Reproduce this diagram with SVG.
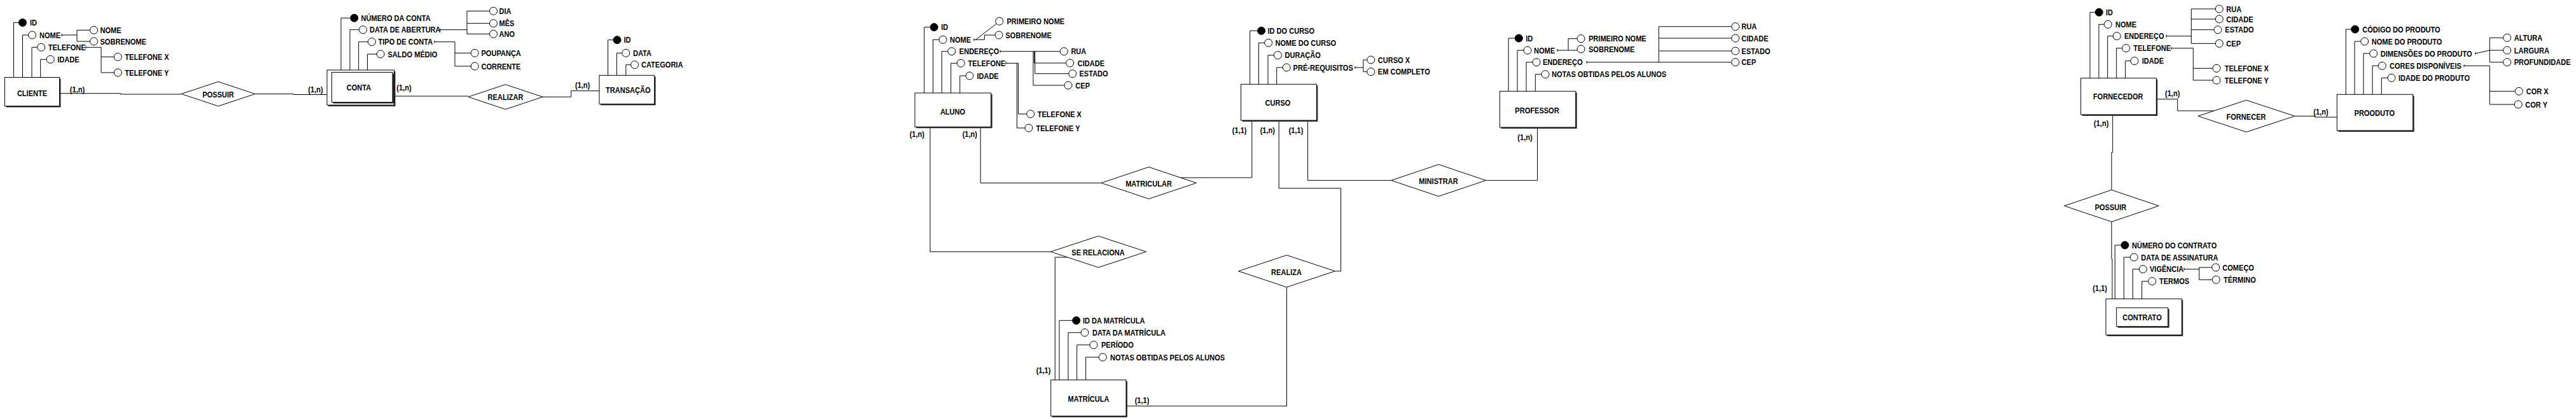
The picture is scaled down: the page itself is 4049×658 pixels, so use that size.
<svg xmlns="http://www.w3.org/2000/svg" width="4049" height="658" viewBox="0 0 4049 658">
<style>
text{font-family:"Liberation Sans",Arial,sans-serif;font-weight:bold;font-size:13px;fill:#000}
.c{text-anchor:middle}
.b{fill:#fff;stroke:#000;stroke-width:1}
.sh{fill:#333}
.rel{fill:#fff;stroke:#000;stroke-width:1}
.ln{fill:none;stroke:#000;stroke-width:1}
.at{fill:#fff;stroke:#000;stroke-width:1}
.pk{fill:#000;stroke:#000;stroke-width:1}
</style>
<rect width="4049" height="658" fill="#fff"/>
<g id="connectors" class="ln">
<path d="M21.5 121.5V35.5H29.5M35.5 121.5V55H44.5M50 121.5V74.3H58.7M63.7 121.5V93.3H73.2"/>
<path d="M97 53V57M97 55H121M121 47.3V65M121 47.3H141.5M121 65H141.5"/>
<path d="M135 72.3V76.3M135 74.3H159V114H179.3M159 89.3H179.3"/>
<path d="M93.5 146.7H189.5V148H285M401 147.5H461.5V148.5H514"/>
<path d="M536 110V28.3H550.8M550 110V46.7H564.6M563.7 110V65.7H578.4M577.5 110V85H592.1"/>
<path d="M692 44.7V48.7M692 46.7H734M734 17.3V53.3M734 17.3H769.5M734 36.7H769.5M734 53.3H769.5"/>
<path d="M683 63.7V67.7M683 65.7H715V104H740.2M715 83.3H740.2"/>
<path d="M619.5 151H736M853 152.2H897.7V142.7H942"/>
<path d="M955.6 118.3V62.7H964M969.4 118.3V83.3H977.8M983.8 118.3V101.7H991.6"/>
<path d="M1452.7 146V42.7H1462.2M1466.5 146V62.3H1476M1480.3 146V80.7H1489.8M1494.7 146V99.3H1504.2M1508.8 146V119H1518"/>
<path d="M1531 60.3V64.3M1531 62.3H1533.6L1566.5 37M1533.6 62.3H1547.4V55H1564"/>
<path d="M1572 78.7V82.7M1572 80.7H1666.4M1624 80.7V134H1673M1625.6 80.7V99H1675.7M1626.8 80.7V115.7H1679.8"/>
<path d="M1581 97.3V101.3M1581 99.3H1600.5V179H1613.7M1598.5 99.3V201H1611"/>
<path d="M1964.7 132.3V48.3H1976.6M1978.5 132.3V67.3H1987.7M1993 132.3V86.7H2002.5M2006.7 132.3V106H2016.2"/>
<path d="M2130 104V108M2130 106H2142.8M2142.8 94V112.7M2142.8 94H2148.8M2142.8 112.7H2148.8"/>
<path d="M2371 143.3V60H2381.3M2385 143.3V79H2395M2399 143.3V97.7H2409M2413.3 143.3V116.7H2423"/>
<path d="M2448 77V81M2448 79H2479.3M2465 79V60.7H2479"/>
<path d="M2494 95.7V99.7M2494 97.7H2721.7M2607.3 41.7V97.7M2607.3 41.7H2721.7M2607.3 60H2721.7M2607.3 80H2721.7"/>
<path d="M1665 596.7V503.3H1685.7M1679 596.7V522.3H1699M1692.7 596.7V541.7H1713M1706.7 596.7V561H1727.3"/>
<path d="M1541.2 199.3V287.3H1731M1855.6 279H1967.8V189"/>
<path d="M1462 199.3V395.3H1651.4M1677.6 404H1658.3V596.7"/>
<path d="M2010.2 189V295.7H2107.6V425.8H2098.3M2022.5 451V637.7H1770"/>
<path d="M2055.6 189V283.3H2186.8M2335.6 283.3H2416.5V200"/>
<path d="M3285 122.7V19.3H3293.3M3299 122.7V38.3H3307.3M3312.7 122.7V56.7H3321.3M3326.7 122.7V75.7H3335.7M3340.7 122.7V95.7H3349"/>
<path d="M3405 54.7V58.7M3405 56.7H3444.3M3444.3 14V68.3M3444.3 14H3482.3M3444.3 30H3482.3M3444.3 46.7H3480M3444.3 68.3H3482.3"/>
<path d="M3413 73.7V77.7M3413 75.7H3447.3V126H3478M3447.3 107.3H3478"/>
<path d="M3687.3 148.3V46H3695.7M3701 148.3V65H3710.7M3715 148.3V84H3724.7M3729 148.3V103.3H3738.3M3743.3 148.3V122.3H3753"/>
<path d="M3891 82V86M3891 84L3913.3 79M3913.3 59.3V97.7M3913.3 59.3H3934.7M3913.3 79H3934.7M3913.3 97.7H3934.7"/>
<path d="M3873 101.3V105.3M3873 103.3H3913.3V164H3952.3M3913.3 143.3H3953.3"/>
<path d="M3324.3 469.3V385H3334M3338.3 469.3V404H3348.3M3352.3 469.3V422.7H3362.3M3366.7 469.3V441.7H3376.7"/>
<path d="M3433 420.7V424.7M3433 422.7H3456.7M3456.7 420V439.3M3456.7 420H3476.7M3456.7 439.3H3477.3"/>
<path d="M3389.3 155.7H3422.7V174H3480.2M3606.7 182.3H3638.3V184H3673.3"/>
<path d="M3320.7 180V239.3H3319V298.3M3319 348.3V406.7H3320V469.3"/>
</g>
<g id="cardinalities">
<text class="c" transform="translate(121.5,144.7) scale(.85,1)">(1,n)</text>
<text class="c" transform="translate(496,144.7) scale(.85,1)">(1,n)</text>
<text class="c" transform="translate(635,142.4) scale(.85,1)">(1,n)</text>
<text class="c" transform="translate(915.6,138) scale(.85,1)">(1,n)</text>
<text class="c" transform="translate(1441.3,215.4) scale(.85,1)">(1,n)</text>
<text class="c" transform="translate(1524.3,215.4) scale(.85,1)">(1,n)</text>
<text class="c" transform="translate(1948.2,208.7) scale(.85,1)">(1,1)</text>
<text class="c" transform="translate(1992.3,208.7) scale(.85,1)">(1,n)</text>
<text class="c" transform="translate(2037,208.7) scale(.85,1)">(1,1)</text>
<text class="c" transform="translate(2397,219.7) scale(.85,1)">(1,n)</text>
<text class="c" transform="translate(1640,585.7) scale(.85,1)">(1,1)</text>
<text class="c" transform="translate(1795,633) scale(.85,1)">(1,1)</text>
<text class="c" transform="translate(3414.7,151.4) scale(.85,1)">(1,n)</text>
<text class="c" transform="translate(3648,179.7) scale(.85,1)">(1,n)</text>
<text class="c" transform="translate(3302.7,198) scale(.85,1)">(1,n)</text>
<text class="c" transform="translate(3300.7,457.4) scale(.85,1)">(1,1)</text>
</g>
<g id="cliente"><rect class="sh" x="9.5" y="123.5" width="86" height="45"/><rect class="b" x="7.5" y="121.5" width="86" height="45"/><text class="c" transform="translate(50.5,151.4) scale(.85,1)">CLIENTE</text></g>
<g id="conta"><rect class="sh" x="516" y="112" width="105.5" height="55"/><rect class="b" x="514" y="110" width="105.5" height="55"/><rect class="sh" x="523.5" y="115.5" width="95.5" height="47"/><rect class="b" x="521.5" y="113.5" width="95.5" height="47"/><text class="c" transform="translate(564,142.4) scale(.85,1)">CONTA</text></g>
<g id="transacao"><rect class="sh" x="944" y="120.3" width="86.6" height="45"/><rect class="b" x="942" y="118.3" width="86.6" height="45"/><text class="c" transform="translate(987.3,146.4) scale(.85,1)">TRANSAÇÃO</text></g>
<g id="aluno"><rect class="sh" x="1440" y="148" width="119.7" height="53.3"/><rect class="b" x="1438" y="146" width="119.7" height="53.3"/><text class="c" transform="translate(1497.5,180.4) scale(.85,1)">ALUNO</text></g>
<g id="curso"><rect class="sh" x="1952.6" y="134.3" width="118.8" height="56.7"/><rect class="b" x="1950.6" y="132.3" width="118.8" height="56.7"/><text class="c" transform="translate(2008.5,166.4) scale(.85,1)">CURSO</text></g>
<g id="professor"><rect class="sh" x="2359.3" y="145.3" width="119.4" height="56.7"/><rect class="b" x="2357.3" y="143.3" width="119.4" height="56.7"/><text class="c" transform="translate(2416,178) scale(.85,1)">PROFESSOR</text></g>
<g id="matricula"><rect class="sh" x="1653.7" y="598.7" width="118.3" height="56.6"/><rect class="b" x="1651.7" y="596.7" width="118.3" height="56.6"/><text class="c" transform="translate(1711,631.4) scale(.85,1)">MATRÍCULA</text></g>
<g id="fornecedor"><rect class="sh" x="3272.7" y="124.7" width="118.6" height="57.3"/><rect class="b" x="3270.7" y="122.7" width="118.6" height="57.3"/><text class="c" transform="translate(3329.3,156.4) scale(.85,1)">FORNECEDOR</text></g>
<g id="produto"><rect class="sh" x="3675.3" y="150.3" width="119.4" height="56.7"/><rect class="b" x="3673.3" y="148.3" width="119.4" height="56.7"/><text class="c" transform="translate(3732.3,182.4) scale(.85,1)">PROODUTO</text></g>
<g id="contrato"><rect class="sh" x="3312" y="471.3" width="119.3" height="56.7"/><rect class="b" x="3310" y="469.3" width="119.3" height="56.7"/><rect class="sh" x="3328.7" y="485.3" width="81" height="29.4"/><rect class="b" x="3326.7" y="483.3" width="81" height="29.4"/><text class="c" transform="translate(3367,503) scale(.85,1)">CONTRATO</text></g>
<g id="rel-possuir-1"><polygon class="rel" points="285,147.5 343,128.3 401,147.5 343,166.7"/><text class="c" transform="translate(343,152.7) scale(.85,1)">POSSUIR</text></g>
<g id="rel-realizar"><polygon class="rel" points="736,152.2 794.5,132.7 853,152.2 794.5,171.7"/><text class="c" transform="translate(794.5,157) scale(.85,1)">REALIZAR</text></g>
<g id="rel-matricular"><polygon class="rel" points="1731,287.3 1805.7,262.3 1880.4,287.3 1805.7,312.3"/><text class="c" transform="translate(1805.5,292.7) scale(.85,1)">MATRICULAR</text></g>
<g id="rel-se-relaciona"><polygon class="rel" points="1651.4,395.3 1726.5,370.7 1801.5,395.3 1726.5,420"/><text class="c" transform="translate(1726,401) scale(.85,1)">SE RELACIONA</text></g>
<g id="rel-realiza"><polygon class="rel" points="1946.7,425.8 2022.5,400.7 2098.3,425.8 2022.5,451"/><text class="c" transform="translate(2022,431.5) scale(.85,1)">REALIZA</text></g>
<g id="rel-ministrar"><polygon class="rel" points="2186.8,283.3 2261.2,258.3 2335.6,283.3 2261.2,308.3"/><text class="c" transform="translate(2261,289) scale(.85,1)">MINISTRAR</text></g>
<g id="rel-fornecer"><polygon class="rel" points="3455,182.3 3530.8,157.3 3606.7,182.3 3530.8,207.3"/><text class="c" transform="translate(3530.5,188) scale(.85,1)">FORNECER</text></g>
<g id="rel-possuir-2"><polygon class="rel" points="3244.7,323.3 3319,298.3 3393.3,323.3 3319,348.3"/><text class="c" transform="translate(3317.5,329.7) scale(.85,1)">POSSUIR</text></g>
<g id="a-cliente-id"><circle class="pk" cx="35.5" cy="35.5" r="6"/><text transform="translate(47,40.2) scale(.85,1)">ID</text></g>
<g id="a-cliente-nome"><circle class="at" cx="50.5" cy="55" r="6"/><text transform="translate(62,59.7) scale(.85,1)">NOME</text></g>
<g id="a-cliente-nome-nome"><circle class="at" cx="147.5" cy="47.3" r="6"/><text transform="translate(157.5,52) scale(.85,1)">NOME</text></g>
<g id="a-cliente-nome-sobrenome"><circle class="at" cx="147.5" cy="65" r="6"/><text transform="translate(157.5,69.7) scale(.85,1)">SOBRENOME</text></g>
<g id="a-cliente-telefone"><circle class="at" cx="64.7" cy="74.3" r="6"/><text transform="translate(75.8,79) scale(.85,1)">TELEFONE</text></g>
<g id="a-cliente-telx"><circle class="at" cx="185.3" cy="89.3" r="6"/><text transform="translate(196.3,94) scale(.85,1)">TELEFONE X</text></g>
<g id="a-cliente-tely"><circle class="at" cx="185.3" cy="114" r="6"/><text transform="translate(196.3,118.7) scale(.85,1)">TELEFONE Y</text></g>
<g id="a-cliente-idade"><circle class="at" cx="79.2" cy="93.3" r="6"/><text transform="translate(90.2,98) scale(.85,1)">IDADE</text></g>
<g id="a-conta-numero"><circle class="pk" cx="556.8" cy="28.3" r="6"/><text transform="translate(567.5,33) scale(.85,1)">NÚMERO DA CONTA</text></g>
<g id="a-conta-data"><circle class="at" cx="570.6" cy="46.7" r="6"/><text transform="translate(581,51.4) scale(.85,1)">DATA DE ABERTURA</text></g>
<g id="a-conta-dia"><circle class="at" cx="775.5" cy="17.3" r="6"/><text transform="translate(784.5,22) scale(.85,1)">DIA</text></g>
<g id="a-conta-mes"><circle class="at" cx="775.5" cy="36.7" r="6"/><text transform="translate(784.5,41.4) scale(.85,1)">MÊS</text></g>
<g id="a-conta-ano"><circle class="at" cx="775.5" cy="53.3" r="6"/><text transform="translate(784.5,58) scale(.85,1)">ANO</text></g>
<g id="a-conta-tipo"><circle class="at" cx="584.4" cy="65.7" r="6"/><text transform="translate(594.5,70.4) scale(.85,1)">TIPO DE CONTA</text></g>
<g id="a-conta-poupanca"><circle class="at" cx="746.2" cy="83.3" r="6"/><text transform="translate(756.5,88) scale(.85,1)">POUPANÇA</text></g>
<g id="a-conta-corrente"><circle class="at" cx="746.2" cy="104" r="6"/><text transform="translate(756.5,108.7) scale(.85,1)">CORRENTE</text></g>
<g id="a-conta-saldo"><circle class="at" cx="598.1" cy="85" r="6"/><text transform="translate(609.5,89.7) scale(.85,1)">SALDO MÉDIO</text></g>
<g id="a-trans-id"><circle class="pk" cx="970" cy="62.7" r="6"/><text transform="translate(980.4,67.4) scale(.85,1)">ID</text></g>
<g id="a-trans-data"><circle class="at" cx="983.8" cy="83.3" r="6"/><text transform="translate(995,88) scale(.85,1)">DATA</text></g>
<g id="a-trans-categoria"><circle class="at" cx="997.6" cy="101.7" r="6"/><text transform="translate(1008,106.4) scale(.85,1)">CATEGORIA</text></g>
<g id="a-aluno-id"><circle class="pk" cx="1468.2" cy="42.7" r="6"/><text transform="translate(1479.2,47.4) scale(.85,1)">ID</text></g>
<g id="a-aluno-nome"><circle class="at" cx="1482" cy="62.3" r="6"/><text transform="translate(1493,67) scale(.85,1)">NOME</text></g>
<g id="a-aluno-primeiro"><circle class="at" cx="1570.8" cy="33.3" r="6"/><text transform="translate(1582.5,38) scale(.85,1)">PRIMEIRO NOME</text></g>
<g id="a-aluno-sobrenome"><circle class="at" cx="1570" cy="55" r="6"/><text transform="translate(1580.5,59.7) scale(.85,1)">SOBRENOME</text></g>
<g id="a-aluno-endereco"><circle class="at" cx="1495.8" cy="80.7" r="6"/><text transform="translate(1507.8,85.4) scale(.85,1)">ENDEREÇO</text></g>
<g id="a-aluno-rua"><circle class="at" cx="1672.4" cy="80.7" r="6"/><text transform="translate(1683.4,85.4) scale(.85,1)">RUA</text></g>
<g id="a-aluno-cidade"><circle class="at" cx="1681.7" cy="99" r="6"/><text transform="translate(1693.8,103.7) scale(.85,1)">CIDADE</text></g>
<g id="a-aluno-estado"><circle class="at" cx="1685.8" cy="115.7" r="6"/><text transform="translate(1696.5,120.4) scale(.85,1)">ESTADO</text></g>
<g id="a-aluno-cep"><circle class="at" cx="1679" cy="134" r="6"/><text transform="translate(1690.3,138.7) scale(.85,1)">CEP</text></g>
<g id="a-aluno-telefone"><circle class="at" cx="1510.2" cy="99.3" r="6"/><text transform="translate(1521.6,104) scale(.85,1)">TELEFONE</text></g>
<g id="a-aluno-telx"><circle class="at" cx="1619.7" cy="179" r="6"/><text transform="translate(1630.7,183.7) scale(.85,1)">TELEFONE X</text></g>
<g id="a-aluno-tely"><circle class="at" cx="1617" cy="201" r="6"/><text transform="translate(1628.5,205.7) scale(.85,1)">TELEFONE Y</text></g>
<g id="a-aluno-idade"><circle class="at" cx="1524" cy="119" r="6"/><text transform="translate(1535.4,123.7) scale(.85,1)">IDADE</text></g>
<g id="a-curso-id"><circle class="pk" cx="1982.6" cy="48.3" r="6"/><text transform="translate(1992.5,53) scale(.85,1)">ID DO CURSO</text></g>
<g id="a-curso-nome"><circle class="at" cx="1993.7" cy="67.3" r="6"/><text transform="translate(2004.5,72) scale(.85,1)">NOME DO CURSO</text></g>
<g id="a-curso-duracao"><circle class="at" cx="2008.5" cy="86.7" r="6"/><text transform="translate(2019.5,91.4) scale(.85,1)">DURAÇÃO</text></g>
<g id="a-curso-prereq"><circle class="at" cx="2022.2" cy="106" r="6"/><text transform="translate(2032.6,110.7) scale(.85,1)">PRÉ-REQUISITOS</text></g>
<g id="a-curso-x"><circle class="at" cx="2154.8" cy="94" r="6"/><text transform="translate(2165.8,98.7) scale(.85,1)">CURSO X</text></g>
<g id="a-curso-completo"><circle class="at" cx="2154.8" cy="112.7" r="6"/><text transform="translate(2165.8,117.4) scale(.85,1)">EM COMPLETO</text></g>
<g id="a-prof-id"><circle class="pk" cx="2387.3" cy="60" r="6"/><text transform="translate(2398.3,64.7) scale(.85,1)">ID</text></g>
<g id="a-prof-nome"><circle class="at" cx="2401" cy="79" r="6"/><text transform="translate(2411,83.7) scale(.85,1)">NOME</text></g>
<g id="a-prof-primeiro"><circle class="at" cx="2485" cy="60.7" r="6"/><text transform="translate(2497,65.4) scale(.85,1)">PRIMEIRO NOME</text></g>
<g id="a-prof-sobrenome"><circle class="at" cx="2485" cy="77" r="6"/><text transform="translate(2497,81.7) scale(.85,1)">SOBRENOME</text></g>
<g id="a-prof-endereco"><circle class="at" cx="2415" cy="97.7" r="6"/><text transform="translate(2425,102.4) scale(.85,1)">ENDEREÇO</text></g>
<g id="a-prof-rua"><circle class="at" cx="2727.7" cy="41.7" r="6"/><text transform="translate(2737.3,46.4) scale(.85,1)">RUA</text></g>
<g id="a-prof-cidade"><circle class="at" cx="2727.7" cy="60" r="6"/><text transform="translate(2737.3,64.7) scale(.85,1)">CIDADE</text></g>
<g id="a-prof-estado"><circle class="at" cx="2727.7" cy="80" r="6"/><text transform="translate(2737.3,84.7) scale(.85,1)">ESTADO</text></g>
<g id="a-prof-cep"><circle class="at" cx="2727.7" cy="97.7" r="6"/><text transform="translate(2737.3,102.4) scale(.85,1)">CEP</text></g>
<g id="a-prof-notas"><circle class="at" cx="2429" cy="116.7" r="6"/><text transform="translate(2439,121.4) scale(.85,1)">NOTAS OBTIDAS PELOS ALUNOS</text></g>
<g id="a-mat-id"><circle class="pk" cx="1691.7" cy="503.3" r="6"/><text transform="translate(1702,508) scale(.85,1)">ID DA MATRÍCULA</text></g>
<g id="a-mat-data"><circle class="at" cx="1705" cy="522.3" r="6"/><text transform="translate(1717,527) scale(.85,1)">DATA DA MATRÍCULA</text></g>
<g id="a-mat-periodo"><circle class="at" cx="1719" cy="541.7" r="6"/><text transform="translate(1731,546.4) scale(.85,1)">PERÍODO</text></g>
<g id="a-mat-notas"><circle class="at" cx="1733.3" cy="561" r="6"/><text transform="translate(1745,565.7) scale(.85,1)">NOTAS OBTIDAS PELOS ALUNOS</text></g>
<g id="a-forn-id"><circle class="pk" cx="3299.3" cy="19.3" r="6"/><text transform="translate(3310,24) scale(.85,1)">ID</text></g>
<g id="a-forn-nome"><circle class="at" cx="3313.3" cy="38.3" r="6"/><text transform="translate(3325,43) scale(.85,1)">NOME</text></g>
<g id="a-forn-endereco"><circle class="at" cx="3327.3" cy="56.7" r="6"/><text transform="translate(3339,61.4) scale(.85,1)">ENDEREÇO</text></g>
<g id="a-forn-rua"><circle class="at" cx="3488.3" cy="14" r="6"/><text transform="translate(3499.3,18.7) scale(.85,1)">RUA</text></g>
<g id="a-forn-cidade"><circle class="at" cx="3488.3" cy="30" r="6"/><text transform="translate(3499.3,34.7) scale(.85,1)">CIDADE</text></g>
<g id="a-forn-estado"><circle class="at" cx="3486" cy="46.7" r="6"/><text transform="translate(3497.3,51.4) scale(.85,1)">ESTADO</text></g>
<g id="a-forn-cep"><circle class="at" cx="3488.3" cy="68.3" r="6"/><text transform="translate(3499.3,73) scale(.85,1)">CEP</text></g>
<g id="a-forn-telefone"><circle class="at" cx="3341.7" cy="75.7" r="6"/><text transform="translate(3353.3,80.4) scale(.85,1)">TELEFONE</text></g>
<g id="a-forn-telx"><circle class="at" cx="3484" cy="107.3" r="6"/><text transform="translate(3496.7,112) scale(.85,1)">TELEFONE X</text></g>
<g id="a-forn-tely"><circle class="at" cx="3484" cy="126" r="6"/><text transform="translate(3496.7,130.7) scale(.85,1)">TELEFONE Y</text></g>
<g id="a-forn-idade"><circle class="at" cx="3355" cy="95.7" r="6"/><text transform="translate(3366.7,100.4) scale(.85,1)">IDADE</text></g>
<g id="a-prod-codigo"><circle class="pk" cx="3701.7" cy="46" r="6"/><text transform="translate(3713.3,50.7) scale(.85,1)">CÓDIGO DO PRODUTO</text></g>
<g id="a-prod-nome"><circle class="at" cx="3716.7" cy="65" r="6"/><text transform="translate(3727.7,69.7) scale(.85,1)">NOME DO PRODUTO</text></g>
<g id="a-prod-dim"><circle class="at" cx="3730.7" cy="84" r="6"/><text transform="translate(3741.7,88.7) scale(.85,1)">DIMENSÕES DO PRODUTO</text></g>
<g id="a-prod-altura"><circle class="at" cx="3940.7" cy="59.3" r="6"/><text transform="translate(3951.7,64) scale(.85,1)">ALTURA</text></g>
<g id="a-prod-largura"><circle class="at" cx="3940.7" cy="79" r="6"/><text transform="translate(3951.7,83.7) scale(.85,1)">LARGURA</text></g>
<g id="a-prod-prof"><circle class="at" cx="3940.7" cy="97.7" r="6"/><text transform="translate(3951.7,102.4) scale(.85,1)">PROFUNDIDADE</text></g>
<g id="a-prod-cores"><circle class="at" cx="3744.3" cy="103.3" r="6"/><text transform="translate(3756,108) scale(.85,1)">CORES DISPONÍVEIS</text></g>
<g id="a-prod-corx"><circle class="at" cx="3959.3" cy="143.3" r="6"/><text transform="translate(3970.7,148) scale(.85,1)">COR X</text></g>
<g id="a-prod-cory"><circle class="at" cx="3958.3" cy="164" r="6"/><text transform="translate(3969.3,168.7) scale(.85,1)">COR Y</text></g>
<g id="a-prod-idade"><circle class="at" cx="3759" cy="122.3" r="6"/><text transform="translate(3770,127) scale(.85,1)">IDADE DO PRODUTO</text></g>
<g id="a-contr-numero"><circle class="pk" cx="3340" cy="385" r="6"/><text transform="translate(3351,389.7) scale(.85,1)">NÚMERO DO CONTRATO</text></g>
<g id="a-contr-data"><circle class="at" cx="3354.3" cy="404" r="6"/><text transform="translate(3365.3,408.7) scale(.85,1)">DATA DE ASSINATURA</text></g>
<g id="a-contr-vigencia"><circle class="at" cx="3368.3" cy="422.7" r="6"/><text transform="translate(3379,427.4) scale(.85,1)">VIGÊNCIA</text></g>
<g id="a-contr-comeco"><circle class="at" cx="3482.7" cy="420" r="6"/><text transform="translate(3493.3,424.7) scale(.85,1)">COMEÇO</text></g>
<g id="a-contr-termino"><circle class="at" cx="3483.3" cy="439.3" r="6"/><text transform="translate(3495,444) scale(.85,1)">TÉRMINO</text></g>
<g id="a-contr-termos"><circle class="at" cx="3382.7" cy="441.7" r="6"/><text transform="translate(3394,446.4) scale(.85,1)">TERMOS</text></g>
</svg>
